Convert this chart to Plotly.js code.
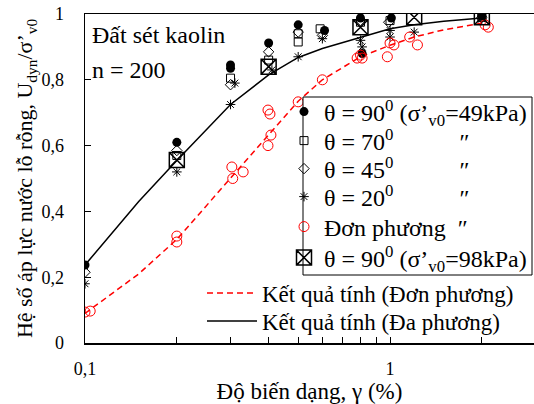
<!DOCTYPE html>
<html>
<head>
<meta charset="utf-8">
<script src="https://cdn.plot.ly/plotly-3.0.1.min.js"></script>
<style>html,body{margin:0;padding:0;overflow:hidden;background:#fff}</style>
</head>
<body>
<div id="chart" style="width:534px;height:404px"></div>
<script>
// Calculated curves
var curveX = [0.1, 0.15, 0.2, 0.3, 0.4, 0.5, 0.6, 0.8, 1, 1.2, 1.5, 2];
var curveUni = [0.09, 0.21, 0.315, 0.50, 0.63, 0.735, 0.80, 0.87, 0.905, 0.93, 0.952, 0.972];
var curveMulti = [0.237, 0.43, 0.555, 0.725, 0.815, 0.868, 0.895, 0.93, 0.955, 0.967, 0.978, 0.988];

// Measured points
var t90X = [0.1, 0.2, 0.3, 0.3, 0.4, 0.5, 0.61, 0.8, 0.81, 1.01, 2];
var t90Y = [0.237, 0.61, 0.845, 0.835, 0.912, 0.967, 0.95, 0.988, 0.88, 0.988, 0.995];
var t70X = [0.2, 0.3, 0.4, 0.5, 0.5, 0.59, 0.8, 1, 2];
var t70Y = [0.57, 0.805, 0.86, 0.94, 0.915, 0.955, 0.975, 0.98, 0.99];
var t45X = [0.1, 0.2, 0.3, 0.4, 0.5, 0.6, 0.8, 0.99, 2];
var t45Y = [0.215, 0.585, 0.785, 0.885, 0.945, 0.935, 0.98, 0.975, 0.99];
var t20X = [0.1, 0.2, 0.3, 0.31, 0.41, 0.5, 0.6, 0.8, 0.81, 1, 1, 1.2, 2];
var t20Y = [0.18, 0.52, 0.725, 0.79, 0.83, 0.87, 0.925, 0.92, 0.90, 0.95, 0.93, 0.945, 0.985];
var uniX = [0.1, 0.104, 0.2, 0.2, 0.303, 0.305, 0.33, 0.398, 0.404, 0.407, 0.398, 0.5, 0.6, 0.8, 0.81, 0.78, 0.98, 1.0, 1.03, 1.16, 1.23, 2.05, 2.1];
var uniY = [0.094, 0.097, 0.325, 0.307, 0.535, 0.50, 0.52, 0.708, 0.696, 0.632, 0.60, 0.733, 0.80, 0.875, 0.866, 0.866, 0.87, 0.912, 0.906, 0.93, 0.906, 0.967, 0.96];
var t98X = [0.2, 0.4, 0.8, 1.2, 2];
var t98Y = [0.556, 0.84, 0.96, 0.99, 0.99];

// Tick labels
var xTickVals = [0.1, 0.2, 0.3, 0.4, 0.5, 0.6, 0.7, 0.8, 0.9, 1, 2, 3];
var xTickText = ['0,1', '', '', '', '', '', '', '', '', '1', '', ''];

var FONT = 'Liberation Serif, Times New Roman, serif';
var sp = '\u00a0';
function pad(n){ return sp.repeat(n); }

var traces = [
  {x: curveX, y: curveUni, mode: 'lines', name: 'Kết quả tính (Đơn phương)', legend: 'legend2',
   line: {color: '#ff0000', width: 1.5, dash: '6px,4px'}},
  {x: curveX, y: curveMulti, mode: 'lines', name: 'Kết quả tính (Đa phương)', legend: 'legend8',
   line: {color: '#000', width: 1.5}},
  {x: t90X, y: t90Y, mode: 'markers', name: 'θ = 90<sup>0</sup> (σ’<sub>v0</sub>=49kPa)', legend: 'legend',
   marker: {symbol: 'circle', size: 9, color: '#000'}},
  {x: t70X, y: t70Y, mode: 'markers', name: 'θ = 70<sup>0</sup>' + pad(11) + '″', legend: 'legend3',
   marker: {symbol: 'square-open', size: 8, color: '#000', line: {width: 1}}},
  {x: t45X, y: t45Y, mode: 'markers', name: 'θ = 45<sup>0</sup>' + pad(11) + '″', legend: 'legend4',
   marker: {symbol: 'diamond-open', size: 8, color: '#000', line: {width: 1}}},
  {x: t20X, y: t20Y, mode: 'markers', name: 'θ = 20<sup>0</sup>' + pad(11) + '″', legend: 'legend5',
   marker: {symbol: 'asterisk-open', size: 8, color: '#000', line: {width: 1}}},
  {x: uniX, y: uniY, mode: 'markers', name: 'Đơn phương' + pad(2) + '″', legend: 'legend6',
   marker: {symbol: 'circle-open', size: 10, color: '#ff0000', line: {width: 1}}},
  {x: t98X, y: t98Y, mode: 'markers', name: 'θ = 90<sup>0</sup> (σ’<sub>v0</sub>=98kPa)', legend: 'legend7',
   marker: {symbol: 'square-x-open', size: 15, color: '#000', line: {width: 1.5}}}
];

// pixel helpers for paper positions (plot area 85..534 x 14..343)
function px(x){ return (x - 85) / 449; }
function py(y){ return (343 - y) / 329; }

function leg(xp, yp, fs){
  return {x: px(xp), y: py(yp), xanchor: 'left', yanchor: 'middle',
          borderwidth: 0, bgcolor: 'rgba(0,0,0,0)',
          font: {family: FONT, size: fs || 24}, itemwidth: 30};
}

var layout = {
  width: 534, height: 404,
  margin: {l: 85, r: 0, t: 14, b: 61},
  paper_bgcolor: '#fff', plot_bgcolor: '#fff',
  separators: ',.',
  font: {family: FONT, size: 18, color: '#000'},
  showlegend: true,
  xaxis: {
    type: 'log', range: [-1, 0.472],
    tickvals: xTickVals, ticktext: xTickText,
    ticks: 'inside', ticklen: 6, tickwidth: 1, tickcolor: '#000',
    showline: true, linecolor: '#000', linewidth: 1.5, mirror: true,
    showgrid: false, zeroline: false,
    ticklabelstandoff: 9,
    tickfont: {family: FONT, size: 18},
    title: {text: 'Độ biến dạng, γ (%)', font: {family: FONT, size: 23}, standoff: 3}
  },
  yaxis: {
    range: [0, 1], dtick: 0.2,
    ticks: 'inside', ticklen: 6, tickwidth: 1, tickcolor: '#000',
    showline: true, linecolor: '#000', linewidth: 1.5, mirror: false,
    showgrid: false, zeroline: false,
    ticklabelstandoff: 16,
    tickfont: {family: FONT, size: 18},
    title: {text: 'Hệ số áp lực nước lỗ rỗng, U<sub>dyn</sub>/σ’<sub>v0</sub>', font: {family: FONT, size: 22}, standoff: 2}
  },
  shapes: [
    {type: 'rect', xref: 'paper', yref: 'paper', layer: 'above',
     x0: px(303), x1: px(532), y0: py(275), y1: py(97),
     fillcolor: '#fff', line: {color: '#000', width: 1}}
  ],
  legend: leg(284, 112),
  legend3: leg(284, 141),
  legend4: leg(284, 169),
  legend5: leg(284, 197),
  legend6: leg(284, 227),
  legend7: leg(284, 258),
  legend2: Object.assign(leg(202, 293, 23), {itemwidth: 50}),
  legend8: Object.assign(leg(202, 321, 23), {itemwidth: 50}),
  annotations: [
    {xref: 'paper', yref: 'paper', x: px(90), y: py(35), xanchor: 'left', yanchor: 'middle',
     text: 'Đất sét kaolin', showarrow: false, font: {family: FONT, size: 24}},
    {xref: 'paper', yref: 'paper', x: px(90), y: py(70), xanchor: 'left', yanchor: 'middle',
     text: 'n = 200', showarrow: false, font: {family: FONT, size: 24}}
  ]
};

Plotly.newPlot('chart', traces, layout, {displayModeBar: false, staticPlot: true});
</script>
</body>
</html>
